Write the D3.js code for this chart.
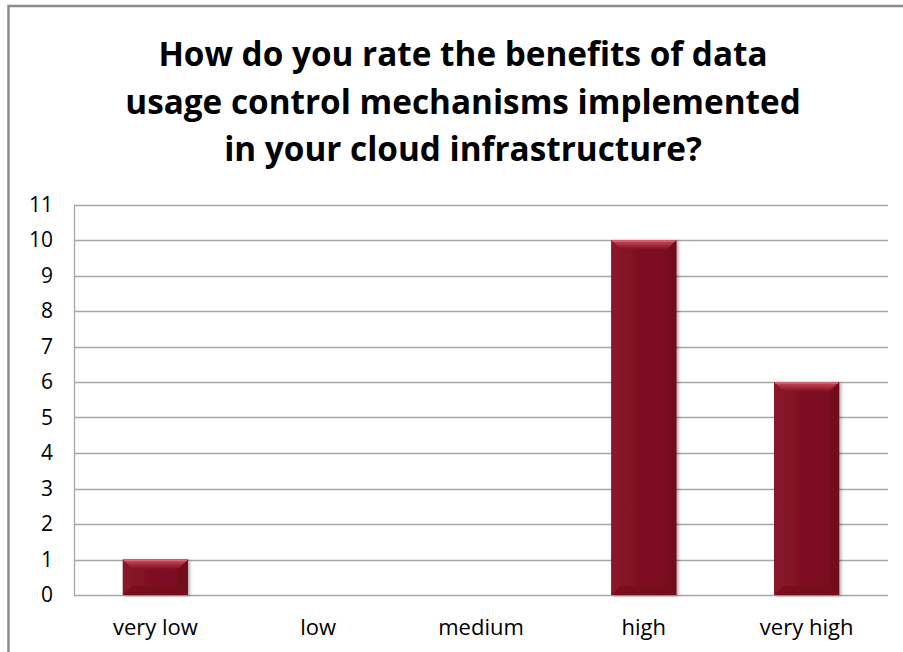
<!DOCTYPE html>
<html>
<head>
<meta charset="utf-8">
<script src="https://cdn.jsdelivr.net/npm/d3@7"></script>
<style>
  html, body { margin: 0; padding: 0; background: #fff; }
  svg { display: block; }
  text { font-family: "Open Sans", Lato, sans-serif; fill: #000; }
</style>
</head>
<body>
<svg id="chart" width="903" height="652"></svg>
<script>
// Survey answers: number of respondents per rating
const categories = ["very low", "low", "medium", "high", "very high"];
const counts = [1, 0, 0, 10, 6];
const yTicks = [0, 1, 2, 3, 4, 5, 6, 7, 8, 9, 10, 11];
const titleLines = [
  "How do you rate the benefits of data",
  "usage control mechanisms implemented",
  "in your cloud infrastructure?"
];

const W = 903, H = 652;
const plot = { left: 74, right: 888, top: 204.5, bottom: 595 };

const svg = d3.select("#chart");

// gradients for the bevelled bar look
const defs = svg.append("defs");
const topGrad = defs.append("linearGradient").attr("id", "bevelTop")
  .attr("x1", 0).attr("y1", 0).attr("x2", 0).attr("y2", 1);
topGrad.append("stop").attr("offset", 0).attr("stop-color", "#cc4c5e");
topGrad.append("stop").attr("offset", 0.35).attr("stop-color", "#b23a4c");
topGrad.append("stop").attr("offset", 1).attr("stop-color", "#861426");
const bodyGrad = defs.append("linearGradient").attr("id", "barBody")
  .attr("x1", 0).attr("y1", 0).attr("x2", 1).attr("y2", 0);
bodyGrad.append("stop").attr("offset", 0).attr("stop-color", "#861527");
bodyGrad.append("stop").attr("offset", 0.5).attr("stop-color", "#7e1022");
bodyGrad.append("stop").attr("offset", 1).attr("stop-color", "#780d1f");
const shadow = defs.append("filter").attr("id", "barShadow")
  .attr("x", "-20%").attr("y", "-20%").attr("width", "140%").attr("height", "140%");
shadow.append("feDropShadow").attr("dx", 2).attr("dy", 1).attr("stdDeviation", 1.5)
  .attr("flood-color", "#000").attr("flood-opacity", 0.3);

// outer chart frame
svg.append("rect")
  .attr("x", 8.5).attr("y", 6)
  .attr("width", W + 20).attr("height", H + 20)
  .attr("fill", "#fff").attr("stroke", "#8c8c8c").attr("stroke-width", 2.5);

// title
svg.append("g").selectAll("text").data(titleLines).join("text")
  .attr("x", 463).attr("y", (d, i) => 66 + i * 47.5)
  .attr("text-anchor", "middle")
  .attr("font-size", 33.3).attr("font-weight", "bold")
  .text(d => d);

const x = d3.scaleBand().domain(categories)
  .range([plot.left, plot.right]).paddingInner(0.6).paddingOuter(0.3);
const y = d3.scaleLinear().domain([0, 11]).range([plot.bottom, plot.top]);

// horizontal gridlines
svg.append("g").selectAll("line").data(yTicks).join("line")
  .attr("x1", plot.left).attr("x2", plot.right)
  .attr("y1", d => Math.round(y(d)) + 0.5).attr("y2", d => Math.round(y(d)) + 0.5)
  .attr("stroke", "#a6a6a6").attr("stroke-width", 1.3);

// value axis
const yAxis = d3.axisLeft(y).tickValues(yTicks).tickSize(0).tickPadding(21);
const yG = svg.append("g").attr("transform", `translate(${plot.left},0)`).call(yAxis);
yG.attr("font-family", null).attr("font-size", null);
yG.select(".domain").attr("stroke", "#a6a6a6").attr("stroke-width", 1.3);
yG.selectAll("text").attr("font-size", 21).attr("fill", "#1a1a1a");

// category axis
const xAxis = d3.axisBottom(x).tickSize(0).tickPadding(24);
const xG = svg.append("g").attr("transform", `translate(0,${plot.bottom})`).call(xAxis);
xG.attr("font-family", null).attr("font-size", null);
xG.select(".domain").remove();
xG.selectAll("text").attr("font-size", 22).attr("fill", "#1a1a1a");

// bars with bevelled edges
const data = categories.map((c, i) => ({ c, v: counts[i] })).filter(d => d.v > 0);
const bars = svg.append("g").selectAll("g").data(data).join("g")
  .attr("filter", "url(#barShadow)");
const b = 9;
bars.each(function(d) {
  const g = d3.select(this);
  const x0 = x(d.c), w = x.bandwidth();
  const y0 = y(d.v), h = y(0) - y(d.v);
  const bb = Math.min(b, h / 3);
  g.append("rect").attr("x", x0).attr("y", y0).attr("width", w).attr("height", h)
    .attr("fill", "url(#barBody)");
  // top bevel
  g.append("path").attr("d",
    `M${x0},${y0}L${x0 + w},${y0}L${x0 + w - bb},${y0 + bb}L${x0 + bb},${y0 + bb}Z`)
    .attr("fill", "url(#bevelTop)");
  // left bevel
  g.append("path").attr("d",
    `M${x0},${y0}L${x0 + bb},${y0 + bb}L${x0 + bb},${y0 + h - bb}L${x0},${y0 + h}Z`)
    .attr("fill", "#891a2c").attr("opacity", 0.85);
  // right bevel
  g.append("path").attr("d",
    `M${x0 + w},${y0}L${x0 + w - bb},${y0 + bb}L${x0 + w - bb},${y0 + h - bb}L${x0 + w},${y0 + h}Z`)
    .attr("fill", "#720b1c").attr("opacity", 0.85);
  // bottom bevel
  g.append("path").attr("d",
    `M${x0},${y0 + h}L${x0 + bb},${y0 + h - bb}L${x0 + w - bb},${y0 + h - bb}L${x0 + w},${y0 + h}Z`)
    .attr("fill", "#760c1d").attr("opacity", 0.7);
  // thin highlight on the top edge
  g.append("line").attr("x1", x0 + 1).attr("x2", x0 + w - 1)
    .attr("y1", y0 + 1).attr("y2", y0 + 1)
    .attr("stroke", "#d86676").attr("stroke-width", 1.5);
});
</script>
</body>
</html>
